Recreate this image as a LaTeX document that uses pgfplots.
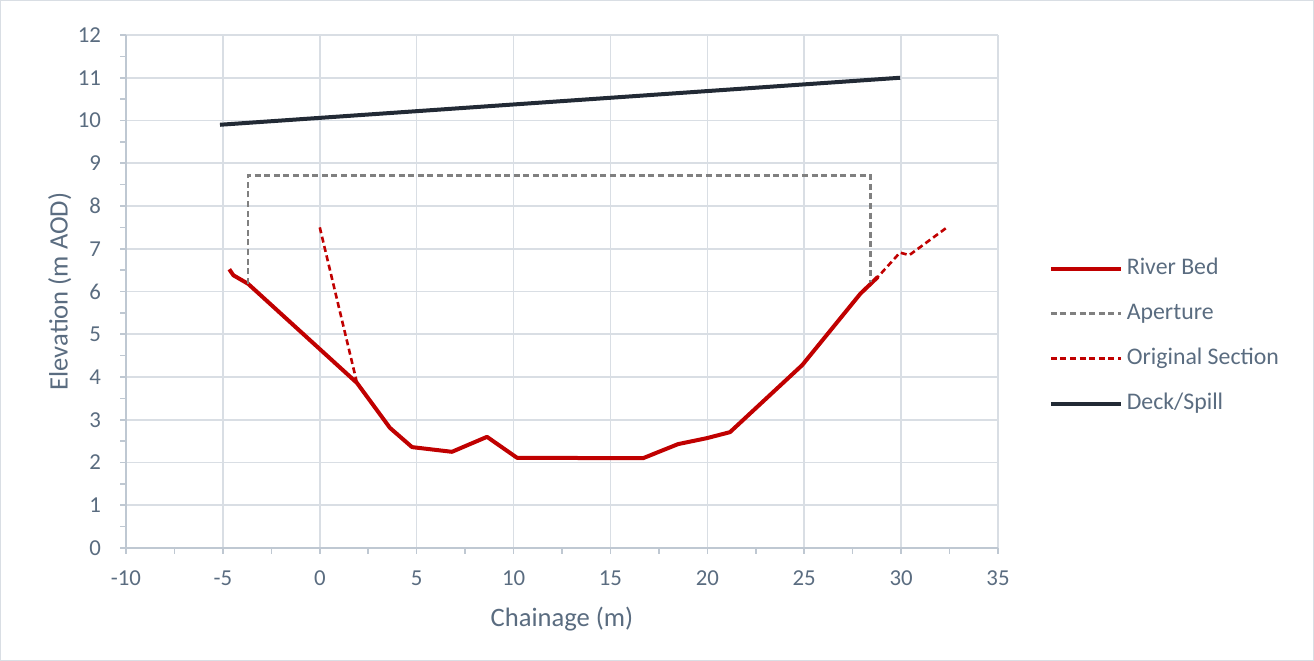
\documentclass[border=0pt]{standalone}
\usepackage{pgfplots}
\pgfplotsset{compat=1.18}
\usepackage{fontspec}
\setmainfont{Carlito}
\definecolor{txt}{HTML}{5A6C80}
\definecolor{gridc}{HTML}{D9DEE4}
\definecolor{axc}{HTML}{BFC8D2}
\definecolor{bed}{HTML}{C00000}
\definecolor{ap}{HTML}{808080}
\definecolor{deck}{HTML}{222A35}
\begin{document}
\begin{tikzpicture}
\draw[draw=gridc, line width=0.6bp] (0.3bp,0.3bp) rectangle (656.7bp,330.2bp);
\begin{axis}[
  at={(63bp,56.5bp)}, anchor=south west,
  scale only axis, width=436bp, height=256.5bp,
  xmin=-10, xmax=35, ymin=0, ymax=12,
  xtick={-10,-5,...,35}, ytick={0,1,...,12},
  minor x tick num=1, minor y tick num=1,
  axis lines=left, axis line style={-, draw=axc, line width=0.8bp},
  grid=major, major grid style={draw=gridc, line width=0.8bp},
  tick align=outside, major tick length=3bp, minor tick length=3bp,
  tick style={draw=axc, line width=0.8bp},
  /pgf/number format/assume math mode=true,
  ticklabel style={font=\fontsize{11.4bp}{13bp}\selectfont, text=txt},
  xticklabel style={yshift=-5bp},
  yticklabel style={xshift=-6bp},
  xlabel={Chainage (m)}, ylabel={Elevation (m AOD)},
  label style={font=\fontsize{13.3bp}{15bp}\selectfont, text=txt},
  xlabel style={at={(axis description cs:0.5,-0.138)}, anchor=center},
  ylabel style={at={(axis description cs:-0.076,0.5)}, anchor=center},
  legend style={at={(axis description cs:1.051,0.413)}, anchor=west, draw=none, fill=none,
    font=\fontsize{11.9bp}{13bp}\selectfont, text=txt, row sep=11.5bp,
    nodes={inner ysep=0pt, inner xsep=2bp, text height=8.5bp, text depth=2.5bp}},
  legend cell align=left,
  legend image code/.code={\draw[#1] (0bp,0bp) -- (35bp,0bp);},
]
\addplot[bed, line width=2bp, line join=round] coordinates {
(-4.67,6.52) (-4.46,6.38) (-3.7,6.18) (1.92,3.86) (3.62,2.81) (4.76,2.36) (6.82,2.25) (8.63,2.60) (10.18,2.11) (16.68,2.10) (18.49,2.43) (19.98,2.57) (21.17,2.71) (24.9,4.28) (27.9,5.95) (28.8,6.34)
};
\addlegendentry{River Bed}
\addplot[ap, line width=1.4bp, dash pattern=on 3bp off 1.8bp] coordinates {
(-3.7,6.18) (-3.7,8.72) (28.4,8.72) (28.4,6.15)
};
\addlegendentry{Aperture}
\addplot[bed, line width=1.3bp, dash pattern=on 3bp off 1.8bp] coordinates {
(0,7.5) (1.92,3.86) (3.62,2.81) (4.76,2.36) (6.82,2.25) (8.63,2.60) (10.18,2.11) (16.68,2.10) (18.49,2.43) (19.98,2.57) (21.17,2.71) (24.9,4.28) (27.9,5.95) (28.8,6.34) (29.94,6.91) (30.42,6.85) (32.43,7.52)
};
\addlegendentry{Original Section}
\addplot[deck, line width=2bp] coordinates {
(-5.15,9.9) (29.95,11.0)
};
\addlegendentry{Deck/Spill}
\end{axis}
\end{tikzpicture}
\end{document}
